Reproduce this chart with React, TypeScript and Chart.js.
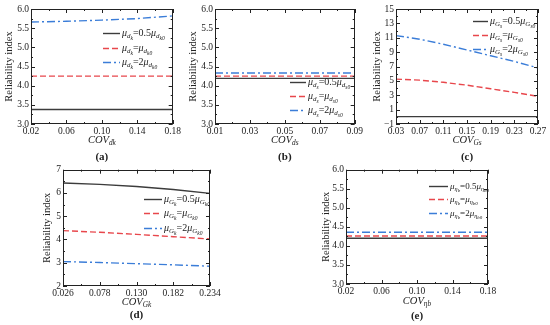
import React, { useEffect, useRef } from "react";
import { Chart, registerables } from "chart.js";
Chart.register(...registerables);

// ---------- data ----------
const aX = [0.02, 0.06, 0.1, 0.14, 0.18];
const aHalf = [3.38, 3.38, 3.38, 3.38, 3.38];
const aBase = [4.25, 4.25, 4.25, 4.25, 4.25];
const aDouble = [5.66, 5.68, 5.71, 5.75, 5.82];
const aXTicks = [0.02, 0.06, 0.1, 0.14, 0.18];
const aYTicks = [3.0, 3.5, 4.0, 4.5, 5.0, 5.5, 6.0];

const bX = [0.01, 0.03, 0.05, 0.07, 0.09];
const bHalf = [4.19, 4.19, 4.19, 4.19, 4.19];
const bBase = [4.25, 4.25, 4.25, 4.25, 4.25];
const bDouble = [4.33, 4.33, 4.33, 4.33, 4.33];
const bXTicks = [0.01, 0.03, 0.05, 0.07, 0.09];
const bYTicks = [3.0, 3.5, 4.0, 4.5, 5.0, 5.5, 6.0];

const cX = [0.03, 0.07, 0.11, 0.15, 0.19, 0.23, 0.27];
const cHalf = [0.02, 0.02, 0.02, 0.02, 0.02, 0.02, 0.02];
const cBase = [5.25, 5.1, 4.8, 4.4, 3.9, 3.4, 2.85];
const cDouble = [11.3, 10.8, 10.1, 9.3, 8.5, 7.7, 6.8];
const cXTicks = [0.03, 0.07, 0.11, 0.15, 0.19, 0.23, 0.27];
const cYTicks = [-1, 1, 3, 5, 7, 9, 11, 13, 15];

const dX = [0.026, 0.078, 0.13, 0.182, 0.234];
const dHalf = [6.43, 6.37, 6.28, 6.15, 5.98];
const dBase = [4.38, 4.31, 4.22, 4.12, 4.02];
const dDouble = [3.05, 3.01, 2.96, 2.91, 2.85];
const dXTicks = [0.026, 0.078, 0.13, 0.182, 0.234];
const dYTicks = [2, 3, 4, 5, 6, 7];

const eX = [0.02, 0.06, 0.1, 0.14, 0.18];
const eHalf = [4.2, 4.2, 4.2, 4.2, 4.2];
const eBase = [4.26, 4.26, 4.26, 4.26, 4.26];
const eDouble = [4.36, 4.36, 4.36, 4.36, 4.36];
const eXTicks = [0.02, 0.06, 0.1, 0.14, 0.18];
const eYTicks = [3.0, 3.5, 4.0, 4.5, 5.0, 5.5, 6.0];

const multipliers = ["0.5", "", "2"];

// ---------- styles ----------
const FONT = "'Liberation Serif', 'Times New Roman', serif";
const TXT = "#222";
const TICK_SIZE = 9.5;
const STYLES = [
  { color: "#3c3c3c", dash: [] as number[] },
  { color: "#e8474c", dash: [6, 3] },
  { color: "#3b7dd8", dash: [8, 3, 2, 3] },
];

type Seg = [string, number, boolean];

function drawRich(ctx: CanvasRenderingContext2D, segs: Seg[], x: number, y: number, size: number, align: "left" | "center") {
  const sizes = [size, size * 0.7, size * 0.55];
  const offs = [0, size * 0.3, size * 0.48];
  const fontOf = (s: Seg) => `${s[2] ? "italic " : ""}${sizes[s[1]]}px ${FONT}`;
  let total = 0;
  for (const s of segs) {
    ctx.font = fontOf(s);
    total += ctx.measureText(s[0]).width;
  }
  let cx = align === "center" ? x - total / 2 : x;
  ctx.textBaseline = "middle";
  ctx.textAlign = "left";
  ctx.fillStyle = TXT;
  for (const s of segs) {
    ctx.font = fontOf(s);
    ctx.fillText(s[0], cx, y + offs[s[1]]);
    cx += ctx.measureText(s[0]).width;
  }
}

function legendSegs(base: string, sub: string, mult: string): Seg[] {
  return [
    ["μ", 0, true],
    [base, 1, true],
    [sub, 2, true],
    ["=" + mult, 0, false],
    ["μ", 0, true],
    [base, 1, true],
    [sub + "0", 2, true],
  ];
}

interface PanelCfg {
  label: string;
  left: number; top: number; w: number; h: number;
  pad: { left: number; top: number; right: number; bottom: number };
  xs: number[];
  series: number[][];
  xTicks: number[]; yTicks: number[];
  xDec: number; yDec: number;
  base: string; sub: string; covSub: string;
  legendX: number; legendLen: number; legendRows: number[]; legendSize: number;
  yTitleX: number; xTitleY: number; labelY: number;
}

const panels: PanelCfg[] = [
  {
    label: "(a)", left: 0, top: 0, w: 183, h: 162,
    pad: { left: 31, top: 9, right: 9, bottom: 38 },
    xs: aX, series: [aHalf, aBase, aDouble], xTicks: aXTicks, yTicks: aYTicks, xDec: 2, yDec: 1,
    base: "d", sub: "k", covSub: "dk",
    legendX: 103, legendLen: 17, legendRows: [33, 48, 62], legendSize: 10,
    yTitleX: 9, xTitleY: 140, labelY: 157,
  },
  {
    label: "(b)", left: 183, top: 0, w: 182, h: 162,
    pad: { left: 32, top: 9, right: 7, bottom: 38 },
    xs: bX, series: [bHalf, bBase, bDouble], xTicks: bXTicks, yTicks: bYTicks, xDec: 2, yDec: 1,
    base: "d", sub: "s", covSub: "ds",
    legendX: 107, legendLen: 16, legendRows: [82, 96, 110], legendSize: 10,
    yTitleX: 10, xTitleY: 140, labelY: 157,
  },
  {
    label: "(c)", left: 365, top: 0, w: 185, h: 162,
    pad: { left: 31, top: 9, right: 12, bottom: 38 },
    xs: cX, series: [cHalf, cBase, cDouble], xTicks: cXTicks, yTicks: cYTicks, xDec: 2, yDec: 0,
    base: "G", sub: "s", covSub: "Gs",
    legendX: 108, legendLen: 15, legendRows: [21, 35, 49], legendSize: 10,
    yTitleX: 12, xTitleY: 140, labelY: 157,
  },
  {
    label: "(d)", left: 0, top: 162, w: 275, h: 163,
    pad: { left: 63, top: 7, right: 65, bottom: 39 },
    xs: dX, series: [dHalf, dBase, dDouble], xTicks: dXTicks, yTicks: dYTicks, xDec: 3, yDec: 0,
    base: "G", sub: "k", covSub: "Gk",
    legendX: 144, legendLen: 18, legendRows: [37, 51, 66], legendSize: 10,
    yTitleX: 47, xTitleY: 140, labelY: 153,
  },
  {
    label: "(e)", left: 275, top: 162, w: 275, h: 163,
    pad: { left: 71, top: 6, right: 62, bottom: 41 },
    xs: eX, series: [eHalf, eBase, eDouble], xTicks: eXTicks, yTicks: eYTicks, xDec: 2, yDec: 1,
    base: "η", sub: "b", covSub: "ηb",
    legendX: 154, legendLen: 19, legendRows: [24, 37, 51], legendSize: 9,
    yTitleX: 51, xTitleY: 139, labelY: 154,
  },
];

function Panel({ p }: { p: PanelCfg }) {
  const ref = useRef<HTMLCanvasElement | null>(null);
  useEffect(() => {
    if (!ref.current) return;
    const deco = {
      id: "deco",
      afterDraw(chart: any) {
        const ctx: CanvasRenderingContext2D = chart.ctx;
        const a = chart.chartArea;
        const xs = chart.scales.x;
        const ys = chart.scales.y;
        ctx.save();
        // frame
        ctx.strokeStyle = "#222";
        ctx.lineWidth = 1;
        ctx.setLineDash([]);
        ctx.strokeRect(Math.round(a.left) + 0.5, Math.round(a.top) + 0.5, Math.round(a.right - a.left) - 1, Math.round(a.bottom - a.top) - 1);
        // ticks
        ctx.beginPath();
        const xt = p.xTicks;
        for (let i = 0; i < xt.length; i++) {
          const px = Math.round(xs.getPixelForValue(xt[i])) + 0.5;
          ctx.moveTo(px, a.bottom); ctx.lineTo(px, a.bottom - 4);
          ctx.moveTo(px, a.top); ctx.lineTo(px, a.top + 4);
          if (i < xt.length - 1) {
            const mx = Math.round(xs.getPixelForValue((xt[i] + xt[i + 1]) / 2)) + 0.5;
            ctx.moveTo(mx, a.bottom); ctx.lineTo(mx, a.bottom - 2);
            ctx.moveTo(mx, a.top); ctx.lineTo(mx, a.top + 2);
          }
        }
        const yt = p.yTicks;
        for (let i = 0; i < yt.length; i++) {
          const py = Math.round(ys.getPixelForValue(yt[i])) + 0.5;
          ctx.moveTo(a.left, py); ctx.lineTo(a.left + 4, py);
          ctx.moveTo(a.right, py); ctx.lineTo(a.right - 4, py);
          if (i < yt.length - 1) {
            const my = Math.round(ys.getPixelForValue((yt[i] + yt[i + 1]) / 2)) + 0.5;
            ctx.moveTo(a.left, my); ctx.lineTo(a.left + 2, my);
            ctx.moveTo(a.right, my); ctx.lineTo(a.right - 2, my);
          }
        }
        ctx.stroke();
        // y title
        ctx.save();
        ctx.translate(p.yTitleX, (a.top + a.bottom) / 2);
        ctx.rotate(-Math.PI / 2);
        ctx.font = `10.5px ${FONT}`;
        ctx.fillStyle = TXT;
        ctx.textAlign = "center";
        ctx.textBaseline = "middle";
        ctx.fillText("Reliability index", 0, 0);
        ctx.restore();
        // x title
        drawRich(ctx, [["COV", 0, true], [p.covSub, 1, true]], (a.left + a.right) / 2, p.xTitleY, 10.5, "center");
        // legend
        for (let i = 0; i < 3; i++) {
          const y = p.legendRows[i] + 0.5;
          ctx.strokeStyle = STYLES[i].color;
          ctx.lineWidth = 1.4;
          ctx.setLineDash(STYLES[i].dash);
          ctx.beginPath();
          ctx.moveTo(p.legendX, y);
          ctx.lineTo(p.legendX + p.legendLen, y);
          ctx.stroke();
          ctx.setLineDash([]);
          drawRich(ctx, legendSegs(p.base, p.sub, multipliers[i]), p.legendX + p.legendLen + 2, y, p.legendSize, "left");
        }
        // panel label
        ctx.font = `bold 11px ${FONT}`;
        ctx.fillStyle = TXT;
        ctx.textAlign = "center";
        ctx.textBaseline = "middle";
        ctx.fillText(p.label, (a.left + a.right) / 2, p.labelY);
        ctx.restore();
      },
    };
    const chart = new Chart(ref.current, {
      type: "line",
      data: {
        datasets: p.series.map((ys, si) => ({
          data: p.xs.map((x, i) => ({ x, y: ys[i] })),
          borderColor: STYLES[si].color,
          borderDash: STYLES[si].dash,
          borderWidth: 1.4,
          pointRadius: 0,
          fill: false,
          tension: 0,
        })),
      },
      options: {
        responsive: false,
        animation: false,
        devicePixelRatio: 1,
        layout: { padding: { left: 0, top: p.pad.top, right: p.pad.right, bottom: 0 } },
        plugins: { legend: { display: false }, tooltip: { enabled: false } },
        scales: {
          x: {
            type: "linear",
            min: p.xTicks[0],
            max: p.xTicks[p.xTicks.length - 1],
            afterBuildTicks: (s: any) => { s.ticks = p.xTicks.map((v) => ({ value: v })); },
            afterFit: (s: any) => { s.height = p.pad.bottom; },
            grid: { display: false, drawTicks: false },
            border: { display: false },
            ticks: {
              autoSkip: false, maxRotation: 0, minRotation: 0, padding: 2, color: TXT,
              font: { family: FONT, size: TICK_SIZE },
              callback: (v: any) => Number(v).toFixed(p.xDec),
            },
          },
          y: {
            type: "linear",
            min: p.yTicks[0],
            max: p.yTicks[p.yTicks.length - 1],
            afterBuildTicks: (s: any) => { s.ticks = p.yTicks.map((v) => ({ value: v })); },
            afterFit: (s: any) => { s.width = p.pad.left; },
            grid: { display: false, drawTicks: false },
            border: { display: false },
            ticks: {
              autoSkip: false, padding: 2, color: TXT,
              font: { family: FONT, size: TICK_SIZE },
              callback: (v: any) => { const n = Number(v); return (n < 0 ? "\u2212" : "") + Math.abs(n).toFixed(p.yDec); },
            },
          },
        },
      },
      plugins: [deco],
    } as any);
    return () => chart.destroy();
  }, [p]);
  return (
    <canvas
      ref={ref}
      width={p.w}
      height={p.h}
      style={{ position: "absolute", left: p.left, top: p.top, width: p.w, height: p.h, display: "block" }}
    />
  );
}

export default function App() {
  return (
    <div style={{ position: "fixed", left: 0, top: 0, width: 550, height: 325, background: "#fff", overflow: "hidden" }}>
      {panels.map((p) => (
        <Panel key={p.label} p={p} />
      ))}
    </div>
  );
}
